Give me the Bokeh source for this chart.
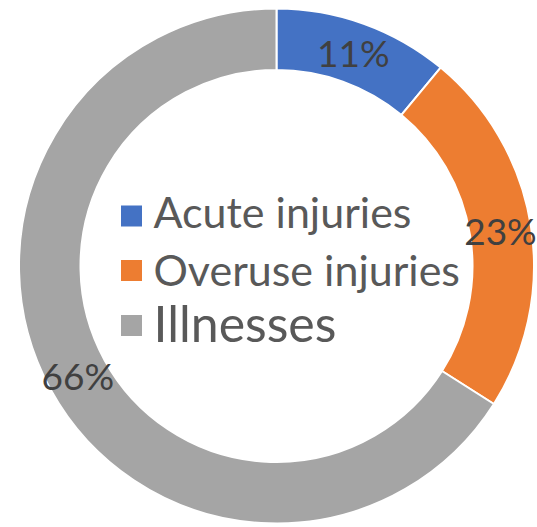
import numpy as np
from bokeh.plotting import figure
from bokeh.models import ColumnDataSource
from bokeh.core.properties import value
from bokeh.embed import file_html
from bokeh.resources import INLINE

categories = ["Acute injuries", "Overuse injuries", "Illnesses"]
values = [11, 23, 66]
labels = ["11%", "23%", "66%"]
colors = ["#4472C4", "#ED7D31", "#A5A5A5"]

W, H = 537, 527
cx, cy = 276, H - 265.5
r_out, r_in = 257.5, 196

vals = np.array(values, dtype=float)
frac = vals / vals.sum()
cum_end = np.cumsum(frac)
cum_start = cum_end - frac
start = np.pi / 2 - cum_start * 2 * np.pi
end = np.pi / 2 - cum_end * 2 * np.pi
mid = (start + end) / 2
r_mid = (r_out + r_in) / 2

src = ColumnDataSource(dict(
    start=start, end=end, color=colors,
    lx=cx + r_mid * np.cos(mid), ly=cy + r_mid * np.sin(mid), label=labels,
))

p = figure(width=W, height=H, x_range=(0, W), y_range=(0, H),
           output_backend="svg", toolbar_location=None, min_border=0)
p.axis.visible = False
p.grid.visible = False
p.outline_line_color = None
p.background_fill_color = "white"
p.border_fill_color = "white"

p.annular_wedge(x=cx, y=cy, inner_radius=r_in, outer_radius=r_out,
                start_angle="start", end_angle="end", direction="clock",
                fill_color="color", line_color="white", line_width=2, source=src)

p.text(x="lx", y="ly", text="label", source=src, text_align="center",
       text_baseline="middle", text_font=value("Lato"), text_font_size="37px",
       text_color="#404040")

# legend
leg_y_marker = [H - 215.5, H - 270, H - 325]
leg_y_text = [H - 211, H - 269, H - 322]
leg_sizes = ["43px", "43px", "50px"]
leg_src = ColumnDataSource(dict(my=leg_y_marker, ty=leg_y_text, name=categories,
                                color=colors, size=leg_sizes))
p.scatter(x=131, y="my", marker="square", size=21, fill_color="color",
          line_color=None, source=leg_src)
p.text(x=153, y="ty", text="name", source=leg_src, text_align="left",
       text_baseline="alphabetic", text_font=value("Lato"),
       text_font_size="size", text_color="#595959")

open("out.html", "w").write(file_html(p, INLINE))
